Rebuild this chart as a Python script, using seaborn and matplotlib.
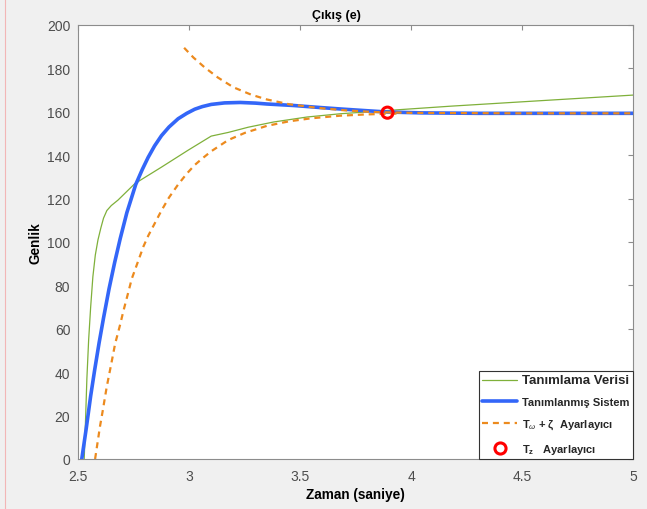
import matplotlib
matplotlib.use("Agg")
import matplotlib.pyplot as plt
from matplotlib.lines import Line2D
import seaborn as sns
import pandas as pd

# ---- data ----
t_data = [2.528, 2.533, 2.540, 2.548, 2.557, 2.567, 2.578, 2.590, 2.603, 2.615, 2.630,
          2.650, 2.680, 2.756, 2.876, 2.996, 3.100, 3.177, 3.267, 3.381, 3.532, 3.682,
          3.893, 4.180, 4.500, 5.000]
v_data = [0, 15, 37, 55, 70, 84, 94, 101, 106.5, 111, 114.5,
          116.8, 119.3, 126.9, 134.5, 142.3, 148.8, 150.5, 152.9, 155.3, 157.6, 159.1,
          160.6, 162.6, 164.6, 167.7]

t_sys = [2.517, 2.537, 2.557, 2.575, 2.595, 2.615, 2.640, 2.665, 2.690, 2.720, 2.760,
         2.790, 2.816, 2.845, 2.876, 2.910, 2.951, 2.990, 3.026, 3.060, 3.100, 3.160,
         3.231, 3.300, 3.350, 3.472, 3.600, 3.682, 3.800, 3.893, 4.050, 4.300, 5.000]
v_sys = [0, 14, 29, 41, 53.5, 65, 78.5, 90.5, 101.5, 113.5, 126.5,
         133.5, 139, 144.3, 149, 153, 156.8, 159.3, 161.2, 162.4, 163.4, 164.1,
         164.3, 164.0, 163.6, 162.9, 161.9, 161.3, 160.5, 159.9, 159.5, 159.3, 159.3]

t_tw_low = [2.577, 2.599, 2.611, 2.629, 2.652, 2.667, 2.690, 2.704, 2.727, 2.742, 2.765,
            2.795, 2.817, 2.876, 2.910, 2.951, 2.990, 3.026, 3.060, 3.100, 3.177, 3.252,
            3.350, 3.450, 3.550, 3.680, 3.800, 3.900, 3.950]
v_tw_low = [0, 15, 22, 33, 45, 53, 62, 68, 77, 83, 89.5,
            98, 103, 114.5, 120.5, 126.5, 131.5, 135.5, 138.5, 141.8, 147, 150.3,
            153.5, 155.6, 157, 158.2, 158.8, 159.1, 159.2]

t_tw_up = [2.978, 3.020, 3.070, 3.130, 3.200, 3.280, 3.350, 3.450, 3.580, 3.700, 3.830,
           4.000, 4.500, 5.000]
v_tw_up = [189.5, 185, 180.5, 175.8, 171.3, 167.9, 165.7, 163.5, 161.8, 160.7, 159.9,
           159.5, 159.3, 159.3]

t_tz = [3.894]
v_tz = [159.6]

labels = ["Tanımlama Verisi", "Tanımlanmış Sistem",
          "T$_{\\omega}$ + ζ  Ayarlayıcı", "T$_{\\mathregular{z}}$   Ayarlayıcı"]
x_ticks = [2.5, 3, 3.5, 4, 4.5, 5]
x_ticklabels = ["2.5", "3", "3.5", "4", "4.5", "5"]
y_ticks = [0, 20, 40, 60, 80, 100, 120, 140, 160, 180, 200]

# ---- style ----
sns.set_theme(style="white")
plt.rcParams["font.family"] = ["Liberation Sans", "DejaVu Sans"]
plt.rcParams["mathtext.fontset"] = "custom"
plt.rcParams["mathtext.rm"] = "Liberation Sans"
plt.rcParams["mathtext.it"] = "Liberation Sans:italic"
plt.rcParams["mathtext.bf"] = "Liberation Sans:bold"

C_GREEN = "#7fb03a"
C_BLUE = "#3366f8"
C_ORANGE = "#ec8a1e"
C_RED = "#ff0000"

fig = plt.figure(figsize=(6.47, 5.10), dpi=100, facecolor="#f0f0f0")
ax = fig.add_axes([78 / 647, 50 / 510, 555 / 647, 434 / 510])
ax.set_facecolor("white")

df_data = pd.DataFrame({"t": t_data, "v": v_data})
df_sys = pd.DataFrame({"t": t_sys, "v": v_sys})
df_low = pd.DataFrame({"t": t_tw_low, "v": v_tw_low})
df_up = pd.DataFrame({"t": t_tw_up, "v": v_tw_up})
df_tz = pd.DataFrame({"t": t_tz, "v": v_tz})

sns.lineplot(data=df_data, x="t", y="v", ax=ax, color=C_GREEN, lw=0.9,
             estimator=None, sort=False, label=labels[0])
sns.lineplot(data=df_sys, x="t", y="v", ax=ax, color=C_BLUE, lw=2.6,
             estimator=None, sort=False, label=labels[1])
sns.lineplot(data=df_low, x="t", y="v", ax=ax, color=C_ORANGE, lw=1.6,
             estimator=None, sort=False, label=labels[2])
sns.lineplot(data=df_up, x="t", y="v", ax=ax, color=C_ORANGE, lw=1.6,
             estimator=None, sort=False, label="_nolegend_")
for ln in ax.get_lines()[:4]:
    ln.set_solid_joinstyle("round")
    ln.set_dash_joinstyle("round")
for ln in ax.get_lines()[2:4]:
    ln.set_linestyle((0, (2.7, 2.2)))
sns.scatterplot(data=df_tz, x="t", y="v", ax=ax, marker="o", s=64,
                facecolor="none", edgecolor=C_RED, linewidth=2.2, zorder=5,
                label=labels[3])

ax.set_xlim(2.5, 5)
ax.set_ylim(0, 200)
ax.set_xticks(x_ticks)
ax.set_xticklabels(x_ticklabels)
ax.set_yticks(y_ticks)

for s in ax.spines.values():
    s.set_color("#8c8c8c")
    s.set_linewidth(0.8)
ax.tick_params(axis="both", direction="in", length=3.5, width=0.8, color="#8c8c8c",
               labelsize=10, labelcolor="#4d4d4d", top=True, right=True)
ax.tick_params(axis="x", pad=7)
ax.tick_params(axis="y", pad=5.5)

ax.set_xlabel("Zaman (saniye)", fontsize=9.8, fontweight="bold", color="black", labelpad=3)
ax.set_ylabel("Genlik", fontsize=9.8, fontweight="bold", color="black", labelpad=3.5)
ax.set_title("Çıkış (e)", fontsize=9, fontweight="bold", color="black", pad=5,
             x=0.466)

handles = [
    Line2D([], [], color=C_GREEN, lw=0.9),
    Line2D([], [], color=C_BLUE, lw=2.6),
    Line2D([], [], color=C_ORANGE, lw=1.6, ls=(0, (2.7, 2.2))),
    Line2D([], [], color=C_RED, lw=0, marker="o", markersize=8,
           markerfacecolor="none", markeredgewidth=2.2),
]
leg = ax.legend(handles, labels, loc="lower right", bbox_to_anchor=(1, 0),
                borderaxespad=0, fancybox=False, framealpha=1, edgecolor="#333333",
                handlelength=3.15, handletextpad=0.45, labelspacing=0.95,
                borderpad=0.3, prop={"weight": "bold", "size": 8})
leg.get_frame().set_linewidth(0.8)
texts = leg.get_texts()
texts[0].set_fontsize(9.5)
texts[1].set_fontsize(8)
texts[2].set_fontsize(8)
texts[3].set_fontsize(8)
for tx in texts:
    tx.set_fontweight("bold")

# thin pink edge line seen at the left of the screenshot
fig.add_artist(Line2D([4.5 / 647, 4.5 / 647], [0, 1], transform=fig.transFigure,
                      color="#f2b6b6", lw=0.8))

fig.savefig("out.png", dpi=100, facecolor=fig.get_facecolor())
